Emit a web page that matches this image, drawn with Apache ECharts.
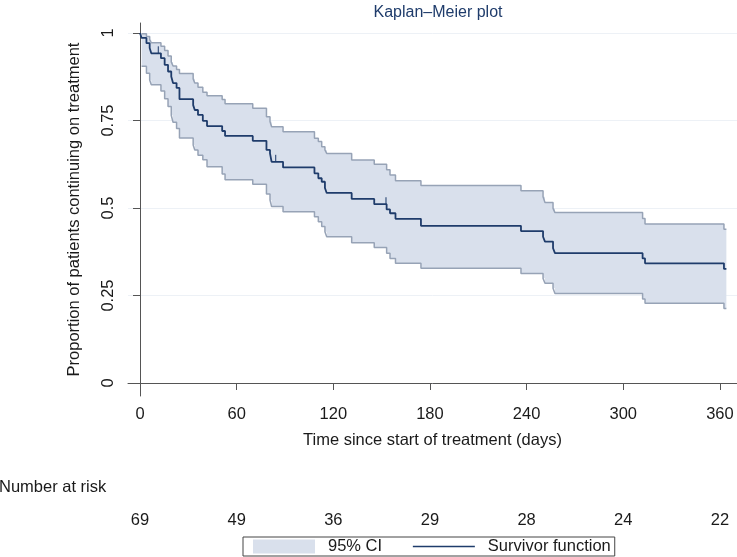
<!DOCTYPE html>
<html><head><meta charset="utf-8">
<script src="https://cdn.jsdelivr.net/npm/echarts@6/dist/echarts.min.js"></script>
<style>html,body{margin:0;padding:0;background:#fff}#c{width:737px;height:557px}</style>
</head><body><div id="c"></div>
<script>
// ---- data ----
const eventDays = [1, 4, 6, 7, 13, 15.3, 17.4, 19.4, 20.5, 22.7, 24.5, 33, 34, 36, 39, 41.6, 51, 52.8, 70, 78.5, 80.7, 81.7, 88.8, 108.3, 110.7, 112.8, 114.8, 115.9, 131.4, 145.4, 153.1, 155.2, 158.6, 174.4, 236.5, 250.2, 251.4, 256.4, 257.6, 312, 313.5, 362.5];
const survival = [0.986, 0.971, 0.957, 0.942, 0.928, 0.909, 0.890, 0.876, 0.857, 0.843, 0.811, 0.794, 0.780, 0.766, 0.749, 0.734, 0.720, 0.706, 0.692, 0.666, 0.656, 0.632, 0.616, 0.599, 0.585, 0.575, 0.557, 0.543, 0.526, 0.511, 0.496, 0.485, 0.469, 0.449, 0.434, 0.418, 0.404, 0.385, 0.371, 0.356, 0.342, 0.326];
const ciUpper = [0.998, 0.990, 0.981, 0.972, 0.962, 0.950, 0.934, 0.917, 0.906, 0.896, 0.884, 0.869, 0.857, 0.845, 0.831, 0.821, 0.810, 0.798, 0.785, 0.761, 0.747, 0.732, 0.718, 0.699, 0.690, 0.675, 0.666, 0.656, 0.637, 0.625, 0.609, 0.594, 0.578, 0.564, 0.549, 0.532, 0.516, 0.499, 0.487, 0.470, 0.454, 0.439];
const ciLower = [0.905, 0.885, 0.866, 0.852, 0.834, 0.812, 0.790, 0.765, 0.745, 0.727, 0.700, 0.680, 0.666, 0.651, 0.638, 0.618, 0.597, 0.581, 0.568, 0.540, 0.523, 0.504, 0.489, 0.475, 0.461, 0.447, 0.432, 0.418, 0.401, 0.387, 0.371, 0.356, 0.342, 0.328, 0.313, 0.299, 0.285, 0.271, 0.256, 0.240, 0.228, 0.213];
const censorDays = [11.4, 84.2, 152.7];
const endDay = 364;
const tickDays = [0, 60, 120, 180, 240, 300, 360];
const atRisk = [69, 49, 36, 29, 28, 24, 22];
const yTicks = [0, 0.25, 0.5, 0.75, 1];

// ---- styles ----
const NAVY = '#1f3c6b';
const BAND = '#d9e0ec';
const CILINE = '#97a3b6';
const AXIS = '#555555';
const TXT = '#1a1a1a';
const FONT = 'Liberation Sans, Arial, sans-serif';
const FS = 16.5;

function levelAt(arr, t, startVal) {
  let v = startVal;
  for (let i = 0; i < eventDays.length; i++) if (eventDays[i] <= t) v = arr[i];
  return v;
}
const last = a => a[a.length - 1];
const survData = [[0, 1]].concat(eventDays.map((d, i) => [d, survival[i]]), [[endDay, last(survival)]]);
const upData = eventDays.map((d, i) => [d, ciUpper[i]]).concat([[endDay, last(ciUpper)]]);
const loData = eventDays.map((d, i) => [d, ciLower[i]]).concat([[endDay, last(ciLower)]]);
const censorData = censorDays.map(d => [d, levelAt(survival, d, 1)]);

function renderBand(params, api) {
  if (params.dataIndex !== 0) return null;
  const pts = [];
  for (let i = 0; i < upData.length; i++) {
    pts.push(api.coord(upData[i]));
    if (i < upData.length - 1) pts.push(api.coord([upData[i + 1][0], upData[i][1]]));
  }
  for (let i = loData.length - 1; i >= 0; i--) {
    pts.push(api.coord(loData[i]));
    if (i > 0) pts.push(api.coord([loData[i][0], loData[i - 1][1]]));
  }
  return { type: 'polygon', shape: { points: pts }, style: { fill: BAND }, silent: true };
}

const chart = echarts.init(document.getElementById('c'), null, { renderer: 'canvas' });
const xMin = -7.45, xMax = 370.6;
chart.setOption({
  animation: false,
  backgroundColor: '#ffffff',
  textStyle: { fontFamily: FONT },
  title: {
    text: 'Kaplan\u2013Meier plot', left: 433, top: 0, textAlign: 'center',
    textStyle: { color: NAVY, fontSize: 16, fontWeight: 'normal', fontFamily: FONT }
  },
  grid: { left: 128, right: 0, top: 23, bottom: 161, containLabel: false },
  legend: {
    left: 243, top: 537,
    data: [
      { name: '95% CI', icon: 'rect' },
      { name: 'Survivor function', itemStyle: { opacity: 0 }, lineStyle: { color: NAVY, width: 1.5 } }
    ],
    itemWidth: 62, itemHeight: 14, itemGap: 30,
    borderColor: '#444', borderWidth: 1, borderRadius: 0,
    padding: [1, 4, 1, 10],
    textStyle: { fontSize: FS, color: TXT, fontFamily: FONT, padding: [0, 0, 0, 8] }
  },
  graphic: [{
    type: 'text', left: -1, top: 479,
    style: { text: 'Number at risk', fontSize: FS, fill: TXT, fontFamily: FONT }
  }],
  xAxis: [{
    type: 'value', min: xMin, max: xMax,
    name: 'Time since start of treatment (days)', nameLocation: 'middle', nameGap: 36,
    nameTextStyle: { fontSize: FS, color: TXT, fontFamily: FONT },
    axisLine: { show: true, lineStyle: { color: AXIS, width: 1 } },
    axisTick: { show: true, length: 7, customValues: tickDays, lineStyle: { color: AXIS } },
    axisLabel: { customValues: tickDays, fontSize: FS, color: TXT, margin: 10, fontFamily: FONT },
    splitLine: { show: false }
  }, {
    type: 'value', min: xMin, max: xMax, position: 'bottom', offset: 110,
    axisLine: { show: false }, axisTick: { show: false }, splitLine: { show: false },
    axisLabel: {
      customValues: tickDays, fontSize: FS, color: TXT, margin: 6, fontFamily: FONT,
      formatter: v => String(atRisk[tickDays.indexOf(v)])
    }
  }],
  yAxis: {
    type: 'value', min: -0.0371, max: 1.0286,
    name: 'Proportion of patients continuing on treatment', nameLocation: 'middle', nameGap: 45,
    nameTextStyle: { fontSize: FS, color: TXT, fontFamily: FONT },
    axisLine: { show: true, lineStyle: { color: AXIS, width: 1 } },
    axisTick: { show: true, length: 7, customValues: yTicks, lineStyle: { color: AXIS } },
    axisLabel: { customValues: yTicks, rotate: 90, fontSize: FS, color: TXT, margin: 11, fontFamily: FONT,
      formatter: v => String(v) },
    splitLine: { show: true, lineStyle: { color: '#edf1f6', width: 1 } }
  },
  series: [
    { name: '95% CI', type: 'custom', renderItem: renderBand, data: [[0, 0]], z: 1,
      itemStyle: { color: BAND }, encode: { x: 0, y: 1 }, silent: true },
    { name: 'upper', type: 'line', step: 'end', data: upData, symbol: 'none', z: 2,
      lineStyle: { color: CILINE, width: 1.5 }, silent: true },
    { name: 'lower', type: 'line', step: 'end', data: loData, symbol: 'none', z: 2,
      lineStyle: { color: CILINE, width: 1.5 }, silent: true },
    { name: 'Survivor function', type: 'line', step: 'end', data: survData, symbol: 'none', z: 3,
      color: NAVY, lineStyle: { color: NAVY, width: 1.8 }, silent: true },
    { name: 'censored', type: 'scatter', data: censorData, symbol: 'rect', symbolSize: [1.3, 7],
      symbolOffset: [0, -3.5], itemStyle: { color: NAVY }, z: 4, silent: true }
  ]
});
</script>
</body></html>
